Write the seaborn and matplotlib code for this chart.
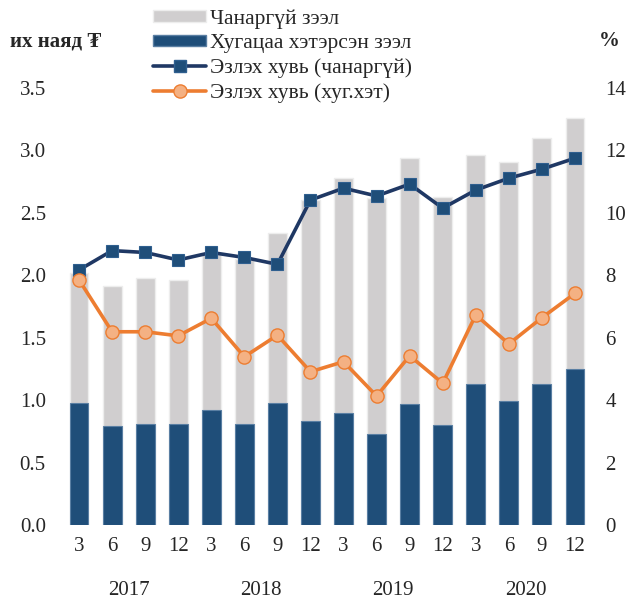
import numpy as np
import pandas as pd
import matplotlib
matplotlib.use("Agg")
import matplotlib.pyplot as plt
import seaborn as sns
from matplotlib.patches import Patch
from matplotlib.lines import Line2D
from matplotlib.transforms import blended_transform_factory

# Quarterly loan quality data, 2017-2020
months = ["3", "6", "9", "12"] * 4
years = ["2017", "2018", "2019", "2020"]
npl_amount = [2.02, 1.91, 1.98, 1.96, 2.17, 2.13, 2.34, 2.60,
              2.78, 2.62, 2.94, 2.63, 2.96, 2.91, 3.10, 3.26]
overdue_amount = [0.98, 0.79, 0.81, 0.81, 0.92, 0.81, 0.98, 0.83,
                  0.90, 0.73, 0.97, 0.80, 1.13, 0.99, 1.13, 1.25]
npl_share = [8.17, 8.79, 8.73, 8.49, 8.73, 8.57, 8.35, 10.41,
             10.79, 10.54, 10.92, 10.15, 10.73, 11.11, 11.40, 11.75]
overdue_share = [7.85, 6.19, 6.19, 6.06, 6.62, 5.39, 6.08, 4.91,
                 5.23, 4.13, 5.42, 4.54, 6.73, 5.80, 6.64, 7.42]

labels = {
    "npl": "Чанаргүй зээл",
    "overdue": "Хугацаа хэтэрсэн зээл",
    "npl_share": "Эзлэх хувь (чанаргүй)",
    "overdue_share": "Эзлэх хувь (хуг.хэт)",
}

GRAY = "#D0CECF"
BLUE = "#1F4E79"
NAVY = "#1F3864"
ORANGE = "#ED7D31"
PEACH = "#F4B183"

sns.set_style("white")
plt.rcParams["font.family"] = ["Liberation Serif", "DejaVu Serif"]

df = pd.DataFrame({
    "q": np.arange(len(months)),
    "npl": npl_amount,
    "overdue": overdue_amount,
    "npl_share": npl_share,
    "overdue_share": overdue_share,
})

fig = plt.figure(figsize=(6.27, 6.03), dpi=100)
ax = fig.add_axes([0.0997, 0.1294, 0.8437, 0.7247])

sns.barplot(data=df, x="q", y="npl", color=GRAY, width=0.57, ax=ax,
            edgecolor="#EDEDED", linewidth=1.0, saturation=1)
sns.barplot(data=df, x="q", y="overdue", color=BLUE, width=0.57, ax=ax,
            edgecolor="#5A7FA3", linewidth=0.8, saturation=1)

ax.set_ylim(0, 3.5)
ax.set_xlim(-0.5, len(months) - 0.5)
ax.set_yticks(np.arange(0, 3.51, 0.5))
ax.set_yticklabels([f"{v:.1f}" for v in np.arange(0, 3.51, 0.5)])
ax.set_xticks(df["q"])
ax.set_xticklabels(months)
ax.set_xlabel("")
ax.set_ylabel("")
ax.tick_params(axis="y", length=0, pad=12, labelsize=15)
ax.tick_params(axis="x", length=0, pad=9, labelsize=15)
for s in ax.spines.values():
    s.set_visible(False)

ax2 = ax.twinx()
sns.lineplot(data=df, x="q", y="npl_share", ax=ax2, color=NAVY, lw=2.6,
             marker="s", markersize=9, markerfacecolor=BLUE,
             markeredgecolor="#2F5F8F", markeredgewidth=0.8)
sns.lineplot(data=df, x="q", y="overdue_share", ax=ax2, color=ORANGE, lw=2.6,
             marker="o", markersize=9.5, markerfacecolor=PEACH,
             markeredgecolor=ORANGE, markeredgewidth=1.0)
ax2.set_ylim(0, 14)
ax2.set_yticks(np.arange(0, 15, 2))
ax2.set_ylabel("")
ax2.tick_params(axis="y", length=0, pad=10, labelsize=15)
for s in ax2.spines.values():
    s.set_visible(False)
ax2.grid(False)
ax.grid(False)

# Year labels centred under each group of four quarters
trans = blended_transform_factory(ax.transData, ax.transAxes)
for i, yr in enumerate(years):
    ax.text(i * 4 + 1.5, -0.15, yr, transform=trans, ha="center", va="center",
            fontsize=15)

fig.text(0.016, 0.932, "их наяд ₮", fontsize=15, fontweight="bold",
         ha="left", va="center")
fig.text(0.955, 0.932, "%", fontsize=15, fontweight="bold",
         ha="left", va="center")

handles = [
    Patch(facecolor=GRAY, edgecolor="#EDEDED"),
    Patch(facecolor=BLUE, edgecolor="#5A7FA3"),
    Line2D([], [], color=NAVY, lw=2.6, marker="s", markersize=9,
           markerfacecolor=BLUE, markeredgecolor="#2F5F8F"),
    Line2D([], [], color=ORANGE, lw=2.6, marker="o", markersize=9.5,
           markerfacecolor=PEACH, markeredgecolor=ORANGE),
]
fig.legend(handles, list(labels.values()), loc="upper left",
           bbox_to_anchor=(0.224, 1.006), frameon=False, fontsize=15.5,
           handlelength=2.45, handleheight=0.45, handletextpad=0.2,
           labelspacing=0.24, borderaxespad=0.2)

fig.savefig("out.png", dpi=100)
